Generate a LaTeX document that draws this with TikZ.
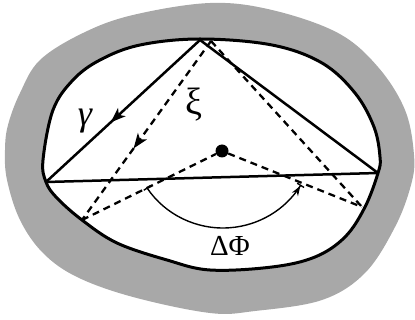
\documentclass[tikz,border=0pt]{standalone}
\usepackage{fontspec}
\newfontfamily\grk{Liberation Serif}
\usetikzlibrary{arrows.meta,decorations.markings}
\definecolor{rim}{gray}{0.66}
\tikzset{
  solidln/.style={line width=2.5pt},
  dashln/.style={line width=2.3pt, dash pattern=on 7pt off 5pt},
  midarrow/.style={postaction={decorate,decoration={markings,
     mark=at position #1 with {\arrow{Stealth[length=15pt,width=11pt,inset=4pt]}}}}},
  lbl/.style={inner sep=0pt}
}
\begin{document}
\begin{tikzpicture}[x=1pt,y=-1pt]
\useasboundingbox (0,0) rectangle (415,320);
% gray rim
\fill[rim] plot[smooth cycle, tension=0.6] coordinates {
 (210,3) (272,10) (338,33) (378,67) (405,110) (414,155) (411,185) (395,227)
 (365,273) (322,300) (255,311) (210,313) (133,297) (77,277) (43,253) (20,220)
 (7,180) (5,150) (8,125) (20,93) (40,60) (83,33) (133,15)};
% inner billiard
\filldraw[fill=white, line width=3pt] plot[smooth cycle, tension=0.6] coordinates {
 (200,39) (272,45) (322,63) (355,93) (374,127) (380,157) (378,173) (365,207)
 (345,237) (315,257) (272,267) (210,270) (167,260) (117,243) (82,220) (57,198)
 (46,182) (43,160) (53,110) (73,80) (100,60) (140,45)};
\coordinate (A) at (200,40);
\coordinate (B) at (46,182);
\coordinate (C) at (378,173);
\coordinate (P) at (211,41);
\coordinate (Q) at (82,220);
\coordinate (R) at (362,207);
\coordinate (ctr) at (223,136);
\node[circle, fill=black, inner sep=0pt, minimum size=13pt] (O) at (222,151) {};
% solid orbit gamma
\draw[solidln, midarrow=0.58] (A) -- (B);
\draw[solidln] (A) -- (C);
\draw[solidln] (B) -- (C);
% dashed orbit xi
\draw[dashln, midarrow=0.6] (P) -- (Q);
\draw[dashln] (P) -- (R);
\draw[dashln] (Q) -- (O);
\draw[dashln] (O) -- (R);
% angle arc
\draw[line width=1.4pt, {Bar[width=8pt]}-{Stealth[length=10pt,width=7pt] Bar[width=8pt]}]
  ([shift={(214:92pt)}]ctr) arc[start angle=214, end angle=328, radius=92pt];
% labels
\node[lbl] (g) at (85,121) {\fontsize{36}{36}\selectfont\grk\itshape γ};
\node[lbl] (x) at (194,105) {\fontsize{38}{38}\selectfont\grk ξ};
\node[lbl] (d) at (230,246) {\fontsize{29}{29}\selectfont\grk ΔΦ};
\end{tikzpicture}
\end{document}
